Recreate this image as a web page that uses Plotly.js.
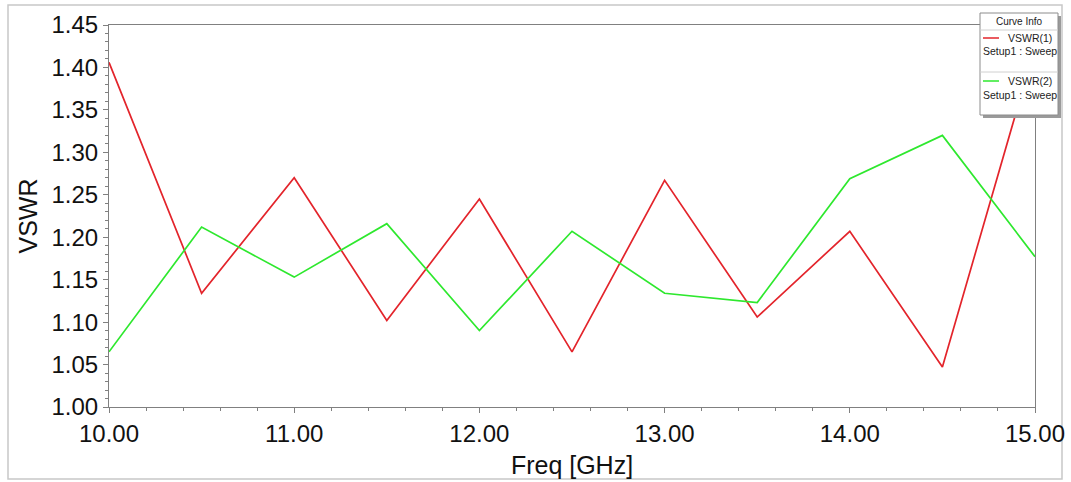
<!DOCTYPE html>
<html>
<head>
<meta charset="utf-8">
<script src="https://cdn.plot.ly/plotly-3.0.1.min.js"></script>
<style>
html,body{margin:0;padding:0;background:#fff;}
#chart{width:1071px;height:482px;}
</style>
</head>
<body>
<div id="chart"></div>
<script>
const freq = [10.0, 10.5, 11.0, 11.5, 12.0, 12.5, 13.0, 13.5, 14.0, 14.5, 15.0];
const vswr1 = [1.406, 1.134, 1.270, 1.102, 1.245, 1.065, 1.267, 1.106, 1.207, 1.047, 1.424];
const vswr2 = [1.065, 1.212, 1.153, 1.216, 1.090, 1.207, 1.134, 1.123, 1.269, 1.320, 1.177];
const seriesNames = ["VSWR(1)", "VSWR(2)"];
const setupLabel = "Setup1 : Sweep";
const xTicks = [10, 11, 12, 13, 14, 15];
const yTicks = [1.00, 1.05, 1.10, 1.15, 1.20, 1.25, 1.30, 1.35, 1.40, 1.45];

const red = "#e3242b";
const green = "#2ee82e";
const font = "Liberation Sans, Arial, sans-serif";

const traces = [
  {x: freq, y: vswr1, name: seriesNames[0], mode: "lines", line: {color: red, width: 1.7}, cliponaxis: true},
  {x: freq, y: vswr2, name: seriesNames[1], mode: "lines", line: {color: green, width: 1.7}, cliponaxis: true}
];

// paper mapping helpers for legend box (plot area: x 109..1035, y 25..407)
const L = 109, R = 1035, T = 25, B = 407;
const px = v => (v - L) / (R - L);
const py = v => (B - v) / (B - T);

const shapes = [
  // outer frame
  {type: "rect", xref: "paper", yref: "paper", x0: px(8), x1: px(1062), y0: py(5), y1: py(479),
   line: {color: "#c8c8c8", width: 1.5}, layer: "below"},
  // legend shadow
  {type: "rect", xref: "paper", yref: "paper", x0: px(983), x1: px(1061), y0: py(16), y1: py(118),
   line: {width: 0}, fillcolor: "#9a9a9a", layer: "above"},
  // legend box
  {type: "rect", xref: "paper", yref: "paper", x0: px(980), x1: px(1058), y0: py(13), y1: py(115),
   line: {color: "#8c8c8c", width: 1}, fillcolor: "#ffffff", layer: "above"},
  // separators
  {type: "line", xref: "paper", yref: "paper", x0: px(980), x1: px(1058), y0: py(30), y1: py(30),
   line: {color: "#d0d0d0", width: 1}, layer: "above"},
  {type: "line", xref: "paper", yref: "paper", x0: px(980), x1: px(1058), y0: py(72), y1: py(72),
   line: {color: "#d0d0d0", width: 1}, layer: "above"},
  // legend line symbols
  {type: "line", xref: "paper", yref: "paper", x0: px(983), x1: px(999), y0: py(38), y1: py(38),
   line: {color: red, width: 1.5}, layer: "above"},
  {type: "line", xref: "paper", yref: "paper", x0: px(983), x1: px(999), y0: py(81), y1: py(81),
   line: {color: green, width: 1.5}, layer: "above"}
];

const annFont = {family: font, size: 10.5, color: "#222"};
const annotations = [
  {xref: "paper", yref: "paper", x: px(1019), y: py(22), text: "Curve Info", showarrow: false,
   xanchor: "center", yanchor: "middle", font: {family: font, size: 10, color: "#222"}},
  {xref: "paper", yref: "paper", x: px(1054), y: py(38), text: seriesNames[0], showarrow: false,
   xanchor: "right", yanchor: "middle", font: annFont},
  {xref: "paper", yref: "paper", x: px(981), y: py(51), text: setupLabel, showarrow: false,
   xanchor: "left", yanchor: "middle", font: annFont},
  {xref: "paper", yref: "paper", x: px(1054), y: py(81), text: seriesNames[1], showarrow: false,
   xanchor: "right", yanchor: "middle", font: annFont},
  {xref: "paper", yref: "paper", x: px(981), y: py(95), text: setupLabel, showarrow: false,
   xanchor: "left", yanchor: "middle", font: annFont}
];

const layout = {
  width: 1071, height: 482,
  margin: {l: L, r: 1071 - R, t: T, b: 482 - B, pad: 0},
  paper_bgcolor: "#ffffff", plot_bgcolor: "#ffffff",
  showlegend: false,
  font: {family: font, color: "#111"},
  xaxis: {
    range: [10, 15], tickvals: xTicks, ticktext: xTicks.map(v => v.toFixed(2)),
    showgrid: false, zeroline: false,
    showline: true, linecolor: "#808080", linewidth: 1, mirror: true,
    ticks: "outside", ticklen: 5, tickcolor: "#808080",
    minor: {dtick: 0.2, tick0: 10, ticks: "outside", ticklen: 3, tickcolor: "#808080", showgrid: false},
    tickfont: {family: font, size: 24, color: "#111"},
    title: {text: "Freq [GHz]", font: {family: font, size: 25, color: "#111"}, standoff: 10},
    automargin: false
  },
  yaxis: {
    range: [1.0, 1.45], tickvals: yTicks, ticktext: yTicks.map(v => v.toFixed(2)),
    showgrid: false, zeroline: false,
    showline: true, linecolor: "#808080", linewidth: 1, mirror: true,
    ticks: "outside", ticklen: 5, tickcolor: "#808080",
    minor: {dtick: 0.01, tick0: 1.0, ticks: "outside", ticklen: 3, tickcolor: "#808080", showgrid: false},
    tickfont: {family: font, size: 24, color: "#111"},
    title: {text: "VSWR", font: {family: font, size: 25, color: "#111"}, standoff: 6},
    automargin: false
  },
  shapes: shapes,
  annotations: annotations
};

Plotly.newPlot("chart", traces, layout, {staticPlot: true, displayModeBar: false});
</script>
</body>
</html>
